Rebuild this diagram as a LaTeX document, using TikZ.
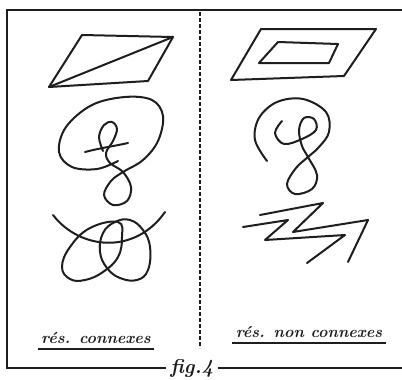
\documentclass[tikz,border=0pt]{standalone}
\usepackage{tikz}
\usetikzlibrary{calc}
\definecolor{enc}{HTML}{1E1E1E}

\begin{document}
\begin{tikzpicture}[x=1pt, y=-1pt, trait/.style={enc, line width=2pt, line cap=round, line join=round}, cadre/.style={enc, line width=1.5pt}, etiq/.style={enc, anchor=base, font=\fontsize{16}{19}\selectfont\bfseries\itshape}]
        \useasboundingbox[fill=white] (0,0) rectangle (402,380);
        % cadre
        \coordinate (ctl) at (7,10);
        \coordinate (ctr) at (402,10);
        \coordinate (cbl) at (7,368);
        \coordinate (cbr) at (402,368);
        \node[enc, anchor=base, inner sep=4pt, font=\fontsize{20}{22}\selectfont\bfseries\itshape] (fig) at (192,373) {fig.4};
        \draw[cadre] (ctr) -- (ctl) -- (cbl) -- (cbl -| fig.west);
        \draw[cadre] (cbr -| fig.east) -- (cbr);
        \coordinate (dtop) at (200,12);
        \coordinate (dbot) at (200,348);
        \draw[enc, line width=1.7pt, dash pattern=on 4pt off 2pt] (dtop) -- (dbot);
        % gauche
        \draw[trait] (49,87) -- (82,35) -- (173,37) -- (148,81) -- cycle;
        \draw[trait] (49,87) -- (173,37);
        \draw[trait] (85,152) .. controls (100,148) and (115,146) .. (128,143);
        \draw[trait] plot[smooth, tension=0.6] coordinates {(103,151) (99,137) (104,125) (112,122) (117,129) (113,141) (106,153) (110,163) (123,172) (131,187) (127,201) (113,205) (104,195) (111,181) (123,172) (143,160) (158,141) (163,116) (152,100) (125,97) (92,105) (66,127) (59,152) (72,167) (97,169) (118,161)};
        \draw[trait] (53,215) .. controls (80,250) and (135,255) .. (165,212);
        \draw[trait] plot[smooth cycle, tension=0.7] coordinates {(118,222) (90,228) (70,247) (62,267) (70,279) (85,280) (103,272) (118,257) (122,237)};
        \draw[trait] plot[smooth cycle, tension=0.7] coordinates {(115,222) (130,220) (143,230) (150,247) (148,270) (137,280) (120,278) (107,268) (100,252) (103,233)};
        % droite
        \draw[trait] (231,80) -- (261,29) -- (376,29) -- (344,76) -- cycle;
        \draw[trait] (259,63) -- (278,42) -- (338,44) -- (329,63) -- cycle;
        \draw[trait] plot[smooth, tension=0.6] coordinates {(282,121) (275,133) (284,144) (302,139) (316,130) (314,119) (304,118) (299,130) (302,146) (308,157) (317,175) (312,189) (295,194) (287,184) (296,168) (308,157) (319,147) (329,132) (326,112) (303,99) (277,102) (259,118) (255,140) (267,161)};
        \draw[trait] (243,227) -- (288,220) -- (265,240) -- (345,235) -- (307,263);
        \draw[trait] (260,215) -- (323,203) -- (293,232) -- (368,220) -- (348,262);
        % etiquettes
        \node[etiq] (conn) at (96,343) {rés. connexes};
        \node[etiq] (nonconn) at (309,337) {rés. non connexes};
        \draw[enc, line width=1.8pt] ([yshift=-6pt]conn.base west) -- ([yshift=-6pt]conn.base east);
        \draw[enc, line width=1.8pt] ([yshift=-6pt]nonconn.base west) -- ([yshift=-6pt]nonconn.base east);
    \end{tikzpicture}
\end{document}
